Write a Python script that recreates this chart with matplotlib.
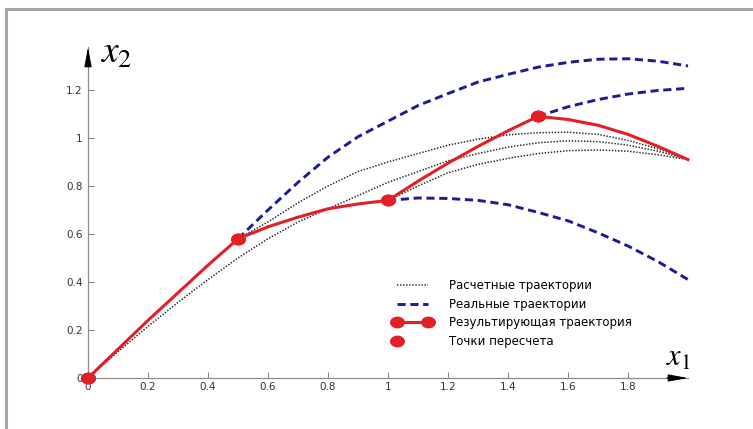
import numpy as np
import matplotlib
matplotlib.use('Agg')
import matplotlib.pyplot as plt
from matplotlib.markers import MarkerStyle
from matplotlib.transforms import Affine2D
from matplotlib.patches import Rectangle
from matplotlib.legend_handler import HandlerLine2D

plt.rcParams['mathtext.fontset'] = 'stix'
plt.rcParams['font.family'] = ['DejaVu Sans']

# результирующая траектория
x_res = [0, 0.1, 0.2, 0.3, 0.4, 0.5, 0.6, 0.7, 0.8, 0.9, 1.0,
         1.1, 1.2, 1.3, 1.4, 1.5, 1.6, 1.7, 1.8, 1.9, 2.0]
y_res = [0, 0.12, 0.24, 0.355, 0.47, 0.58, 0.63, 0.67, 0.705, 0.725, 0.74,
         0.82, 0.895, 0.965, 1.03, 1.09, 1.077, 1.053, 1.015, 0.965, 0.91]

# точки пересчета
x_pts = [0, 0.5, 1.0, 1.5]
y_pts = [0, 0.58, 0.74, 1.09]

# расчетные траектории
x_calc0 = [0, 0.1, 0.2, 0.3, 0.4, 0.5, 0.6, 0.7, 0.8, 0.9, 1.0,
           1.1, 1.2, 1.3, 1.4, 1.5, 1.6, 1.7, 1.8, 1.9, 2.0]
y_calc0 = [0, 0.11, 0.215, 0.315, 0.41, 0.50, 0.58, 0.65, 0.705, 0.76, 0.815,
           0.86, 0.905, 0.935, 0.962, 0.98, 0.988, 0.985, 0.97, 0.945, 0.91]
x_calc1 = [0.5, 0.6, 0.7, 0.8, 0.9, 1.0, 1.1, 1.2, 1.3, 1.4, 1.5,
           1.6, 1.7, 1.8, 1.9, 2.0]
y_calc1 = [0.58, 0.65, 0.73, 0.80, 0.86, 0.90, 0.935, 0.97, 0.995, 1.013, 1.022,
           1.024, 1.015, 0.99, 0.955, 0.91]
x_calc2 = [1.0, 1.1, 1.2, 1.3, 1.4, 1.5, 1.6, 1.7, 1.8, 1.9, 2.0]
y_calc2 = [0.74, 0.80, 0.855, 0.89, 0.915, 0.935, 0.947, 0.95, 0.945, 0.93, 0.91]

# реальные траектории
x_real1 = [0.5, 0.6, 0.7, 0.8, 0.9, 1.0, 1.1, 1.2, 1.3, 1.4, 1.5,
           1.6, 1.7, 1.8, 1.9, 2.0]
y_real1 = [0.58, 0.70, 0.815, 0.92, 1.005, 1.07, 1.135, 1.185, 1.233, 1.265, 1.295,
           1.315, 1.328, 1.33, 1.32, 1.30]
x_real2 = [1.0, 1.1, 1.2, 1.3, 1.4, 1.5, 1.6, 1.7, 1.8, 1.9, 2.0]
y_real2 = [0.74, 0.75, 0.748, 0.74, 0.722, 0.69, 0.655, 0.605, 0.55, 0.485, 0.41]
x_real3 = [1.5, 1.6, 1.7, 1.8, 1.9, 2.0]
y_real3 = [1.09, 1.13, 1.16, 1.183, 1.198, 1.207]

x_ticks = [0, 0.2, 0.4, 0.6, 0.8, 1, 1.2, 1.4, 1.6, 1.8]
y_ticks = [0, 0.2, 0.4, 0.6, 0.8, 1, 1.2]

labels = ['Расчетные траектории', 'Реальные траектории',
          'Результирующая траектория', 'Точки пересчета']

red = '#e31e24'
blue = '#1c1c96'
dot_col = '#222222'
grey = '#8c8c8c'

fig = plt.figure(figsize=(7.53, 4.29), dpi=100)
ax = fig.add_axes([88/753, 51/429, 600/753, 331/429])
ax.set_xlim(0, 2.0)
ax.set_ylim(0, 1.379)

dot_kw = dict(color=dot_col, lw=1.1, linestyle=(0, (0.9, 1.1)), clip_on=False, zorder=2)
l_calc, = ax.plot(x_calc0, y_calc0, **dot_kw)
ax.plot(x_calc1, y_calc1, **dot_kw)
ax.plot(x_calc2, y_calc2, **dot_kw)

dash_kw = dict(color=blue, lw=2.1, linestyle=(0, (2.8, 1.6)), clip_on=False, zorder=3)
l_real, = ax.plot(x_real1, y_real1, **dash_kw)
ax.plot(x_real2, y_real2, **dash_kw)
ax.plot(x_real3, y_real3, **dash_kw)

mk = MarkerStyle('o', transform=Affine2D().scale(1.3, 1.0))
l_res, = ax.plot(x_res, y_res, color=red, lw=2.2, marker=mk, markersize=7.5,
                 markevery=[0, 5, 10, 15], clip_on=False, zorder=4)
l_pts, = ax.plot(x_pts, y_pts, linestyle='none', marker=mk, markersize=7.5,
                 color=red, clip_on=False, zorder=5)

# оси со стрелками
for s in ['top', 'right']:
    ax.spines[s].set_visible(False)
for s in ['left', 'bottom']:
    ax.spines[s].set_color(grey)
    ax.spines[s].set_linewidth(0.9)
ax.annotate('', xy=(1, 0), xytext=(0.965, 0), xycoords='axes fraction',
            arrowprops=dict(arrowstyle='-|>,head_length=1.2,head_width=0.22',
                            color='black', lw=0.8, shrinkA=0, shrinkB=0))
ax.annotate('', xy=(0, 1), xytext=(0, 0.96), xycoords='axes fraction',
            arrowprops=dict(arrowstyle='-|>,head_length=1.2,head_width=0.22',
                            color='black', lw=0.8, shrinkA=0, shrinkB=0))

ax.set_xticks(x_ticks)
ax.set_yticks(y_ticks)
ax.set_xticklabels([f'{v:g}' for v in x_ticks])
ax.set_yticklabels([f'{v:g}' for v in y_ticks])
ax.tick_params(direction='in', length=4, width=0.8, color=grey,
               labelsize=7.5, labelcolor='#333333')
ax.tick_params(axis='x', pad=3)
ax.tick_params(axis='y', pad=4)

fig.text(666/753, 1 - 366/429, r'$x_1$', fontsize=22, va='baseline', ha='left')
fig.text(100/753, 1 - 63/429, r'$x_2$', fontsize=27, va='baseline', ha='left')


class LeftMarker(HandlerLine2D):
    def get_xdata(self, legend, xdescent, ydescent, width, height, fontsize):
        pad = self._marker_pad * fontsize
        x0 = -xdescent + pad
        return [x0 - pad, x0 + pad], [x0]


ax.legend([l_calc, l_real, l_res, l_pts], labels, loc='upper left',
          bbox_to_anchor=(393/753, 1 - 279/429), bbox_transform=fig.transFigure,
          frameon=False, fontsize=8.5, handlelength=3.3, handletextpad=1.45,
          labelspacing=0.48, borderpad=0, borderaxespad=0, numpoints=2,
          handler_map={l_pts: LeftMarker(numpoints=1)})

# рамка рисунка
fig.add_artist(Rectangle((6/753, -0.2), 1.2, 1 - 9.5/429 + 0.2,
                         transform=fig.transFigure, fill=False,
                         edgecolor='#a6a6a6', lw=2.2))

fig.savefig('out.png', dpi=100)
